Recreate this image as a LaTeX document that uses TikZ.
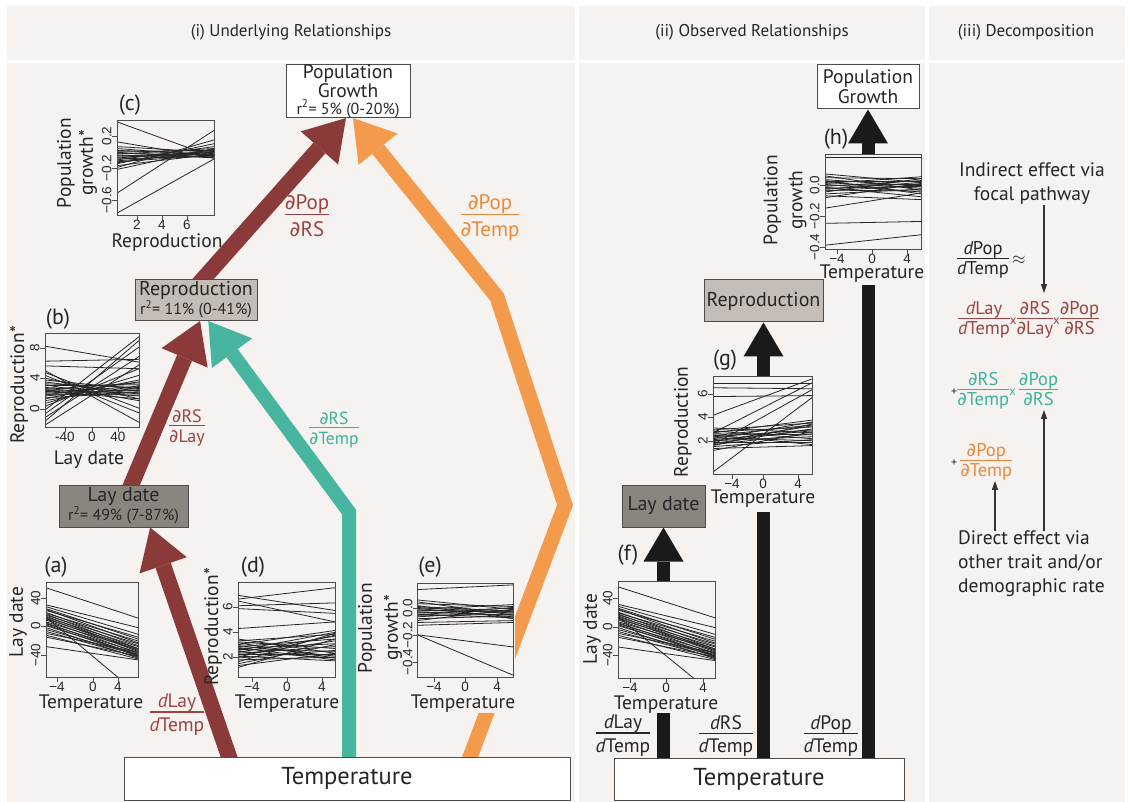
\documentclass[tikz,border=0pt]{standalone}
\usepackage{fontspec}
\setmainfont{PT Sans}
\newfontfamily\dvfont{DejaVu Sans}
\newfontfamily\rfont{Liberation Sans}
\usetikzlibrary{arrows.meta,calc}

\definecolor{panel}{HTML}{F5F2EF}
\definecolor{redarrow}{HTML}{8B3A3A}
\definecolor{tealarrow}{HTML}{48B5A1}
\definecolor{orangearrow}{HTML}{F49A4C}
\definecolor{redtext}{HTML}{9C4343}
\definecolor{tealtext}{HTML}{3DB39D}
\definecolor{orangetext}{HTML}{EE8838}
\definecolor{laybox}{HTML}{8B857F}
\definecolor{repbox}{HTML}{C4BCB6}
\definecolor{blackbar}{HTML}{1A1A1A}

\pgfdeclarelayer{back}
\pgfdeclarelayer{arrows}
\pgfsetlayers{back,arrows,main}

\setlength{\arrayrulewidth}{1.2pt}
\newcommand{\pd}{{\dvfont ∂}}
\newcommand{\dd}{{\itshape d}}
\newcommand{\fr}[3][1em]{\begin{tabular}{@{}c@{}}#2\\[-1pt]\hline\rule{0pt}{#1}#3\end{tabular}}
\newcommand{\mx}{{\fontsize{13}{13}\selectfont x}}
\newcommand{\rsq}{\fontsize{16}{15}\selectfont}

% fitted lines: left end / right end, as fraction of the frame height
\def\dataLay{0.94/0.62,0.76/0.52,0.74/0.45,0.72/0.40,0.71/0.36,0.70/0.42,0.68/0.33,0.67/0.38,0.66/0.30,0.65/0.35,0.64/0.28,0.63/0.32,0.62/0.27,0.61/0.30,0.60/0.25,0.58/0.29,0.57/0.23,0.56/0.26,0.55/0.22,0.54/0.24,0.52/0.20,0.50/0.23,0.48/0.21,0.46/0.26,0.44/0.19,0.42/0.22,0.32/0.18,0.63/-0.18}
\def\dataRepLay{0.86/0.69,0.70/0.72,0.65/0.62,0.55/0.15,0.52/0.30,0.50/0.40,0.48/0.35,0.46/0.42,0.45/0.28,0.44/0.45,0.42/0.38,0.41/0.33,0.40/0.47,0.39/0.36,0.38/0.30,0.37/0.43,0.36/0.39,0.35/0.34,0.34/0.48,0.33/0.41,0.31/0.37,0.30/0.50,0.28/0.44,0.25/0.55,0.22/0.62,0.18/0.96,0.14/0.85,0.10/0.75,0.06/0.92,0.02/0.66,0.60/0.05,0.58/0.20}
\def\dataPopRep{0.98/0.61,0.77/0.60,0.72/0.66,0.70/0.62,0.68/0.64,0.67/0.68,0.66/0.60,0.65/0.63,0.64/0.70,0.63/0.61,0.62/0.66,0.61/0.64,0.60/0.67,0.59/0.62,0.58/0.72,0.57/0.65,0.56/0.63,0.55/0.69,0.54/0.75,0.52/0.64,0.50/0.79,0.48/0.70,0.23/0.89,0.02/0.59}
\def\dataRepTemp{0.86/0.70,0.82/0.94,0.80/0.58,0.75/0.78,0.72/0.67,0.51/0.58,0.40/0.25,0.38/0.45,0.37/0.30,0.36/0.20,0.34/0.49,0.33/0.22,0.32/0.40,0.31/0.18,0.30/0.35,0.29/0.27,0.28/0.47,0.27/0.20,0.26/0.43,0.25/0.32,0.24/0.24,0.23/0.38,0.22/0.17,0.21/0.44,0.20/0.28,0.18/0.21,0.16/0.46,0.14/0.34,0.12/0.25,0.10/0.40}
\def\dataPopTemp{0.93/0.98,0.82/0.72,0.80/0.66,0.78/0.75,0.76/0.62,0.75/0.70,0.74/0.68,0.73/0.64,0.72/0.77,0.71/0.69,0.70/0.73,0.69/0.66,0.68/0.71,0.67/0.63,0.66/0.74,0.65/0.67,0.64/0.70,0.62/0.65,0.60/0.72,0.58/0.60,0.55/0.58,0.45/0.32,0.45/0.02}
\def\dataRepObs{0.92/0.92,0.88/0.87,0.79/0.80,0.60/0.97,0.02/0.78,0.42/0.93,0.30/0.86,0.47/0.42,0.45/0.52,0.44/0.36,0.43/0.48,0.42/0.55,0.41/0.40,0.40/0.30,0.39/0.50,0.38/0.45,0.37/0.34,0.36/0.53,0.35/0.44,0.34/0.38,0.33/0.49,0.32/0.32,0.31/0.46,0.30/0.41,0.29/0.51,0.28/0.35,0.26/0.29,0.24/0.43}
\def\dataPopObs{0.96/0.96,0.79/0.70,0.77/0.62,0.75/0.74,0.73/0.66,0.72/0.58,0.71/0.71,0.70/0.64,0.69/0.76,0.68/0.60,0.67/0.68,0.66/0.72,0.65/0.55,0.64/0.66,0.63/0.70,0.62/0.61,0.61/0.67,0.60/0.74,0.58/0.63,0.56/0.52,0.54/0.69,0.43/0.59,0.27/0.29,0.04/0.15}

% #1,#2 lower left corner of the frame, #3 width, #4 height, #5 data
\newcommand{\spag}[5]{%
  \begin{scope}[shift={(#1,#2)},x=#3pt,y=#4pt]
    \begin{scope}
      \clip (0,0) rectangle (1,1);
      \foreach \a/\b in #5 \draw[fitline] (0,\a) -- (1,\b);
    \end{scope}
    \draw[axis] (0,0) rectangle (1,1);
  \end{scope}}

\begin{document}
\begin{tikzpicture}[x=1pt,y=-1pt,
  fitline/.style={line width=0.8pt,black!85},
  axis/.style={line width=0.9pt,black!70},
  tick/.style={font=\rfont\fontsize{13.5}{13.5}\selectfont,inner sep=0pt,text=black!85},
  atitle/.style={font=\fontsize{19.5}{22}\selectfont,inner sep=0pt,align=center,text=black!85},
  plab/.style={font=\fontsize{22}{22}\selectfont,inner sep=0pt,text=black!85},
  head/.style={font=\fontsize{17}{18}\selectfont,text=black!85},
  box/.style={draw=black!70,line width=1pt,inner sep=0pt,align=center,text=black!85,font=\fontsize{20}{18}\selectfont},
  bigfrac/.style={font=\fontsize{21}{17}\selectfont,inner sep=0pt},
  smallfrac/.style={font=\fontsize{18}{14}\selectfont,inner sep=0pt},
  midfrac/.style={font=\fontsize{19.5}{15}\selectfont,inner sep=0pt,text=black!85},
  eq/.style={font=\fontsize{18.5}{14}\selectfont,inner sep=0pt,text=black!85},
  note/.style={font=\fontsize{19.5}{24}\selectfont,inner sep=0pt,text=black!85},
  redarr/.style={draw=redarrow,line width=16pt,-{Triangle[width=50pt,length=40pt,line width=0pt]}},
  tealarr/.style={draw=tealarrow,line width=14pt,-{Triangle[width=50pt,length=40pt,line width=0pt]}},
  orangearr/.style={draw=orangearrow,line width=15pt,-{Triangle[width=50pt,length=40pt,line width=0pt]}},
  blackarr/.style={draw=blackbar,line width=13pt,-{Triangle[width=40pt,length=34pt,line width=0pt]}},
  thinarr/.style={draw=black!80,line width=1.2pt,-{Triangle[width=6pt,length=9pt]}}]
\useasboundingbox (0,0) rectangle (1128,802);

% panels
\begin{pgfonlayer}{back}
\fill[white] (0,0) rectangle (1128,802);
\fill[panel] (7,6) rectangle (575,60);
\fill[panel] (579,6) rectangle (925,60);
\fill[panel] (929,6) rectangle (1125,60);
\fill[panel] (7,63) rectangle (575,802);
\fill[panel] (579,63) rectangle (925,802);
\fill[panel] (929,63) rectangle (1125,802);
\end{pgfonlayer}
\node[head] (h1) at (291,32) {(i) Underlying Relationships};
\node[head] (h2) at (752,32) {(ii) Observed Relationships};
\node[head] (h3) at (1026,32) {(iii) Decomposition};

% (i) boxes
\node[box,fill=white,minimum width=124,minimum height=52,font=\fontsize{19.5}{17}\selectfont] (popL) at (348,91) {Population\\Growth\\{\rsq r\textsuperscript{2}= 5\% (0-20\%)}};
\node[box,fill=repbox,minimum width=122,minimum height=41] (repL) at (196,300) {Reproduction\\{\rsq r\textsuperscript{2}= 11\% (0-41\%)}};
\node[box,fill=laybox,minimum width=129,minimum height=42] (layL) at (123.5,506) {Lay date\\{\rsq r\textsuperscript{2}= 49\% (7-87\%)}};
\node[box,fill=white,minimum width=446,minimum height=43,font=\fontsize{24.5}{24}\selectfont] (tempL) at (347,778.5) {Temperature};

% (ii) boxes
\node[box,fill=white,minimum width=102,minimum height=44,font=\fontsize{19.5}{20}\selectfont] (popM) at (868,87) {Population\\Growth};
\node[box,fill=repbox,minimum width=119,minimum height=42] (repM) at (763.5,301) {Reproduction};
\node[box,fill=laybox,minimum width=83,minimum height=42] (layM) at (663.5,506) {Lay date};
\node[box,fill=white,minimum width=290,minimum height=42,font=\fontsize{24.5}{24}\selectfont] (tempM) at (759,779) {Temperature};

% arrows
\coordinate (tbend) at (349,512);
\coordinate (obend1) at (565,505);
\coordinate (obend2) at (497,297);
\begin{pgfonlayer}{arrows}
\draw[redarr] ($(tempL.north west)!.242!(tempL.north east)+(0,8)$) -- ($(layL.south west)!.705!(layL.south east)$);
\draw[redarr] ($(layL.north west)!.535!(layL.north east)+(0,8)$) -- ($(repL.south west)!.533!(repL.south east)$);
\draw[redarr] ($(repL.north west)!.5!(repL.north east)+(0,8)$) -- ($(popL.south west)!.484!(popL.south east)$);
\draw[tealarr] ($(tempL.north west)!.505!(tempL.north east)+(0,8)$) -- (tbend) -- ($(repL.south west)!.6!(repL.south east)$);
\draw[orangearr] ($(tempL.north west)!.769!(tempL.north east)+(0,8)$) -- (obend1) -- (obend2) -- ($(popL.south west)!.54!(popL.south east)$);
\draw[blackarr] (layM.south |- tempM.north) -- (layM.south);
\draw[blackarr] (repM.south |- tempM.north) -- (repM.south);
\draw[blackarr] (popM.south |- tempM.north) -- (popM.south);
\end{pgfonlayer}

% path labels
\node[bigfrac,text=redtext] (fPR) at (307,218) {\fr{\pd Pop}{\pd RS}};
\node[bigfrac,text=orangetext] (fPT) at (490,218) {\fr{\pd Pop}{\pd Temp}};
\node[smallfrac,text=redtext] (fRL) at (187,428) {\fr[0.9em]{\pd RS}{\pd Lay}};
\node[smallfrac,text=tealtext,font=\fontsize{17.5}{14}\selectfont] (fRT) at (334,430) {\fr[0.9em]{\pd RS}{\pd Temp}};
\node[bigfrac,text=redtext,font=\fontsize{19.5}{16}\selectfont] (fLT) at (177,715) {\fr[0.95em]{\dd Lay}{\dd Temp}};
\node[midfrac] (fm1) at (623,736) {\fr[0.95em]{\dd Lay}{\dd Temp}};
\node[midfrac] (fm2) at (726,736) {\fr[0.95em]{\dd RS}{\dd Temp}};
\node[midfrac] (fm3) at (831,736) {\fr[0.95em]{\dd Pop}{\dd Temp}};

% (a) lay date
\spag{46}{677}{92}{95}{\dataLay}
\node[plab] (la) at (56,567) {(a)};
\foreach \p/\t [count=\i] in {57/−4,93/0,118/4}
  \draw[axis] (\p,677) -- (\p,682) node[tick,anchor=north] (a-x\i) {\t};
\foreach \p/\t [count=\i] in {598/40,626/0,655/−40}
  \draw[axis] (46,\p) -- (41,\p) node[tick,rotate=90,anchor=south] (a-y\i) {\t};
\node[atitle] (a-xt) at (91,704) {Temperature};
\node[atitle,rotate=90] (a-yt) at (18,622) {Lay date};

% (b) reproduction on lay date
\spag{45}{427}{94}{94}{\dataRepLay}
\node[plab] (lb) at (58,319) {(b)};
\foreach \p/\t [count=\i] in {65/-40,92/0,118/40}
  \draw[axis] (\p,427) -- (\p,432) node[tick,anchor=north] (b-x\i) {\t};
\foreach \p/\t [count=\i] in {348/8,378/4,409/0}
  \draw[axis] (45,\p) -- (40,\p) node[tick,rotate=90,anchor=south] (b-y\i) {\t};
\node[atitle] (b-xt) at (89,460) {Lay date};
\node[atitle,rotate=90] (b-yt) at (19,385) {Reproduction*};

% (c) population growth on reproduction
\spag{117}{215}{97}{95}{\dataPopRep}
\node[plab] (lc) at (130,105) {(c)};
\foreach \p/\t [count=\i] in {137/2,162/4,187/6}
  \draw[axis] (\p,215) -- (\p,220) node[tick,anchor=north] (c-x\i) {\t};
\foreach \p/\t [count=\i] in {136/0.2,168/−0.2,200/−0.6}
  \draw[axis] (117,\p) -- (112,\p) node[tick,rotate=90,anchor=south] (c-y\i) {\t};
\node[atitle] (c-xt) at (167,243) {Reproduction};
\node[atitle,rotate=90] (c-yt) at (77,163) {Population\\growth*};

% (d) reproduction on temperature
\spag{238}{677}{97}{95}{\dataRepTemp}
\node[plab] (ld) at (253,567) {(d)};
\foreach \p/\t [count=\i] in {252/−4,287/0,322/4}
  \draw[axis] (\p,677) -- (\p,682) node[tick,anchor=north] (d-x\i) {\t};
\foreach \p/\t [count=\i] in {607/6,632/4,657/2}
  \draw[axis] (238,\p) -- (233,\p) node[tick,rotate=90,anchor=south] (d-y\i) {\t};
\node[atitle] (d-xt) at (287,704) {Temperature};
\node[atitle,rotate=90] (d-yt) at (213,627) {Reproduction*};

% (e) population growth on temperature
\fill[panel] (470,600) rectangle (515,713);
\spag{417}{677}{96}{94}{\dataPopTemp}
\node[plab] (le) at (430,567) {(e)};
\foreach \p/\t [count=\i] in {434/−4,465/0,497/4}
  \draw[axis] (\p,677) -- (\p,682) node[tick,anchor=north] (e-x\i) {\t};
\foreach \p/\t [count=\i] in {608/0.0,635/−0.2,662/−0.4}
  \draw[axis] (417,\p) -- (413,\p) node[tick,rotate=90,anchor=south] (e-y\i) {\t};
\node[atitle] (e-xt) at (463,704) {Temperature};
\node[atitle,rotate=90,font=\fontsize{19.5}{26}\selectfont] (e-yt) at (380,628) {Population\\growth*};

% (f) observed lay date
\fill[panel] (650,581) rectangle (680,713);
\spag{618}{678}{97}{97}{\dataLay}
\node[plab] (lf) at (628,555) {(f)};
\foreach \p/\t [count=\i] in {630/−4,666/0,703/4}
  \draw[axis] (\p,678) -- (\p,683) node[tick,anchor=north] (f-x\i) {\t};
\foreach \p/\t [count=\i] in {598/40,627/0,655/−40}
  \draw[axis] (618,\p) -- (613,\p) node[tick,rotate=90,anchor=south] (f-y\i) {\t};
\node[atitle] (f-xt) at (666,705) {Temperature};
\node[atitle,rotate=90] (f-yt) at (592,629) {Lay date};

% (g) observed reproduction
\fill[panel] (748,376) rectangle (780,512);
\spag{713}{474}{99}{98}{\dataRepObs}
\node[plab] (lg) at (725,360) {(g)};
\foreach \p/\t [count=\i] in {732/−4,763/0,798/4}
  \draw[axis] (\p,474) -- (\p,479) node[tick,anchor=north] (g-x\i) {\t};
\foreach \p/\t [count=\i] in {394/6,417/4,441/2}
  \draw[axis] (713,\p) -- (708,\p) node[tick,rotate=90,anchor=south] (g-y\i) {\t};
\node[atitle] (g-xt) at (763,499) {Temperature};
\node[atitle,rotate=90] (g-yt) at (683,422) {Reproduction};

% (h) observed population growth
\fill[panel] (852,154) rectangle (886,285);
\spag{825}{249}{96}{95}{\dataPopObs}
\node[plab] (lh) at (836,139) {(h)};
\foreach \p/\t [count=\i] in {837/−4,872/0,907/4}
  \draw[axis] (\p,249) -- (\p,254) node[tick,anchor=north] (h-x\i) {\t};
\foreach \p/\t [count=\i] in {185/0.0,216/−0.2,247/−0.4}
  \draw[axis] (825,\p) -- (820,\p) node[tick,rotate=90,anchor=south] (h-y\i) {\t};
\node[atitle] (h-xt) at (872,274) {Temperature};
\node[atitle,rotate=90,font=\fontsize{19.5}{25}\selectfont] (h-yt) at (785,200) {Population\\growth};

% (iii) decomposition
\coordinate (colA) at (1044,0);
\coordinate (colB) at (995,0);
\node[note,align=center] (ind) at (1032,184) {Indirect effect via\\focal pathway};
\node[eq,anchor=west] (eqP) at (957,260) {\fr[0.85em]{\dd Pop}{\dd Temp}\,$\approx$};
\node[eq,anchor=west,text=redtext] (eqR) at (958,320) {\fr[0.85em]{\dd Lay}{\dd Temp}\mx\fr[0.85em]{\pd RS}{\pd Lay}\mx\fr[0.85em]{\pd Pop}{\pd RS}};
\node[eq,anchor=west] (eqT) at (951,391) {{\fontsize{12}{12}\selectfont +}\textcolor{tealtext}{\fr[0.85em]{\pd RS}{\pd Temp}\mx\,\fr[0.85em]{\pd Pop}{\pd RS}}};
\node[eq,anchor=west] (eqO) at (951,462) {{\fontsize{12}{12}\selectfont +}\,\textcolor{orangetext}{\fr[0.85em]{\pd Pop}{\pd Temp}}};
\node[note,align=left,anchor=west] (dir) at (958,564) {Direct effect via\\other trait and/or\\demographic rate};
\draw[thinarr] (ind.south -| colA) -- ($(eqR.north -| colA)+(0,-8)$);
\draw[thinarr] (dir.north -| colA) -- (eqT.south -| colA);
\draw[thinarr] (dir.north -| colB) -- (eqO.south -| colB);
\end{tikzpicture}
\end{document}
